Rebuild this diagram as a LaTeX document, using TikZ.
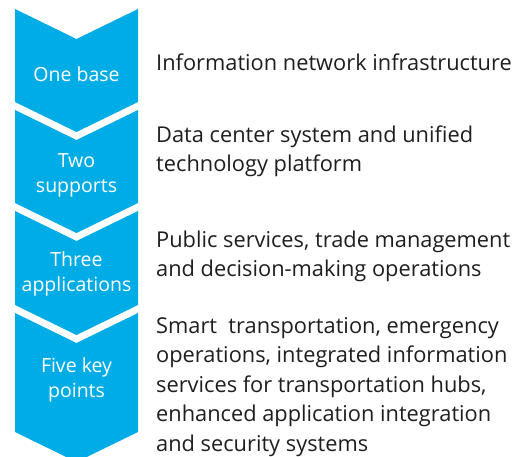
\documentclass[tikz,border=0pt]{standalone}
\usepackage{fontspec}
\setmainfont{Open Sans}
\usepackage{xcolor}
\usepackage{tikz}
\usetikzlibrary{positioning}

\definecolor{chevblue}{RGB}{0,172,230}
\definecolor{desctext}{RGB}{30,30,30}

\begin{document}
\begin{tikzpicture}[
    x=1pt, y=-1pt,
    chev/.style={fill=chevblue, draw=none},
    level/.style={text=white, align=center, inner sep=0pt, font=\fontsize{19.5}{25}\selectfont},
    desc/.style={text=desctext, align=left, anchor=north west, inner sep=0pt, font=\fontsize{21.8}{29.5}\selectfont}
]
\useasboundingbox (0,0) rectangle (522,457);

% --- Chevron column ---
\foreach \t/\b in {9/102, 110/203, 211/305, 313/432}
  \fill[chev] (15,\t) -- (76.5,\t+30) -- (138,\t) -- (138,\b) -- (76.5,\b+30) -- (15,\b) -- cycle;

% --- Level labels ---
\node[level] (base) at (76.5,74) {One base};
\node[level] (supports) at (76.5,175.5) {Two\\supports};
\node[level] (apps) at (76.5,274) {Three\\applications};
\node[level] (points) at (76.5,379.5) {Five key\\points};

% --- Descriptions ---
\node[desc] (infra) at (156,53.5) {Information network infrastructure};
\node[desc] (center) at (156,125.5) {Data center system and unified\\technology platform};
\node[desc] (public) at (156,230.5) {Public services, trade management\\and decision-making operations};
\node[desc] (smart) at (156,317) {Smart\ \ transportation, emergency\\operations, integrated information\\services for transportation hubs,\\enhanced application integration\\and security systems};

\end{tikzpicture}
\end{document}
